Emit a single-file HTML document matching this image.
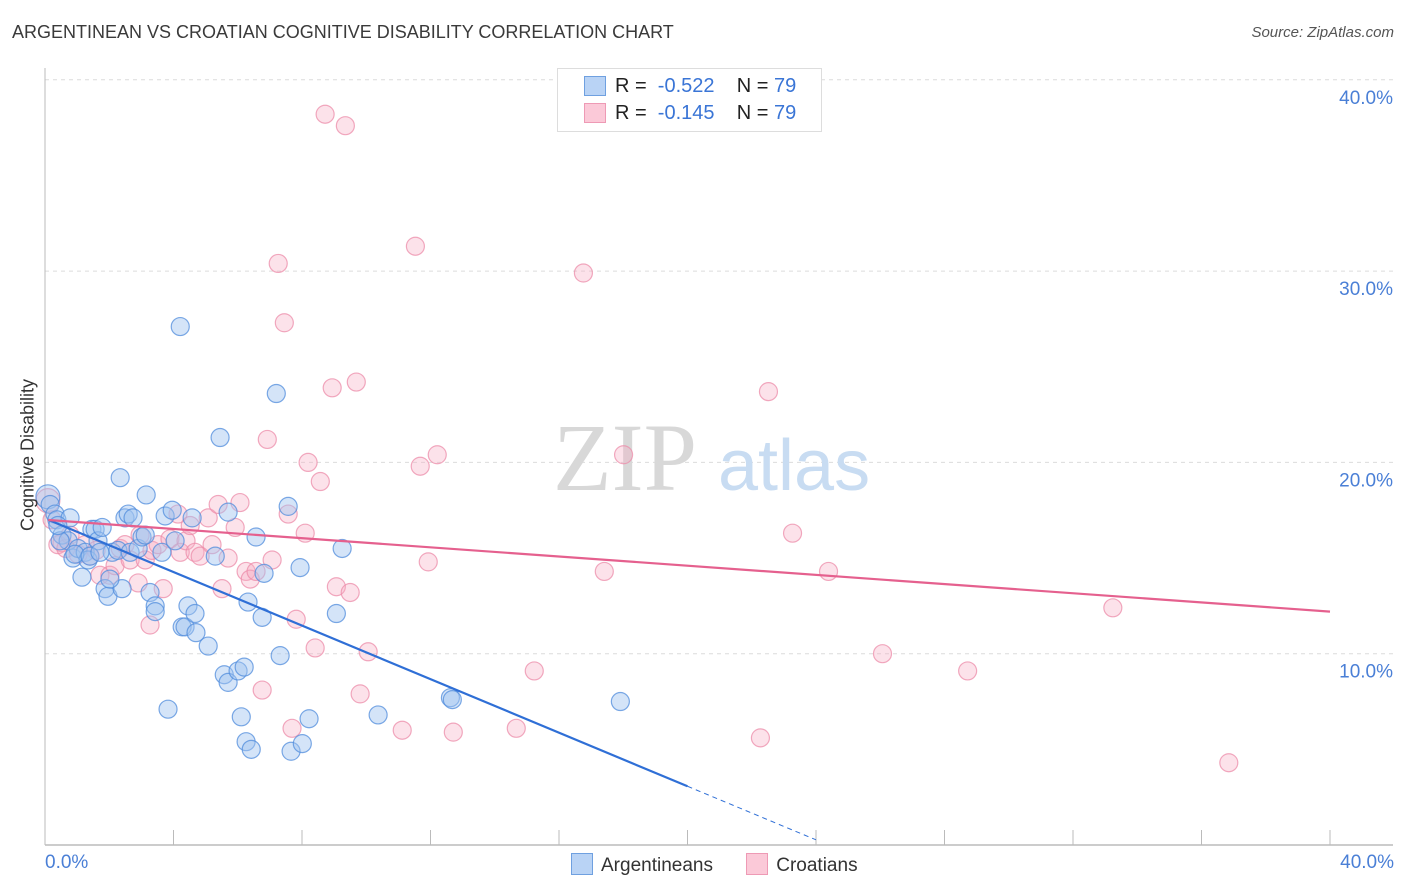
<!DOCTYPE html>
<html><head><meta charset="utf-8"><style>
body{margin:0;background:#fff;font-family:"Liberation Sans",sans-serif;}
#wrap{position:relative;width:1406px;height:892px;overflow:hidden;}
.t{position:absolute;white-space:nowrap;}
</style></head><body>
<div id="wrap">
<div class="t" style="left:12px;top:22px;font-size:18px;color:#3a3a3a;">ARGENTINEAN VS CROATIAN COGNITIVE DISABILITY CORRELATION CHART</div>
<div class="t" style="right:12px;top:24px;font-size:15px;color:#555;font-style:italic;">Source: ZipAtlas.com</div>
<svg id="svg" width="1406" height="892" style="position:absolute;left:0;top:0"></svg>
</div>
<script>
const blueX=[0.09,0.16,0.31,0.37,0.53,0.78,0.72,0.87,1.03,1.15,1.25,1.34,1.46,1.56,1.65,1.78,1.87,1.96,2.09,2.27,2.34,2.40,2.49,2.59,2.65,2.74,2.90,3.02,3.12,3.15,3.27,3.43,3.43,3.64,3.74,3.83,3.96,4.05,4.21,4.27,4.36,4.45,4.58,4.67,4.70,5.08,5.30,5.45,5.58,5.70,5.70,6.01,6.11,6.20,6.26,6.32,6.42,6.57,6.76,6.82,7.20,7.32,7.57,7.66,7.94,8.01,8.22,9.07,9.25,10.37,12.62,12.68,17.91,0.47,0.93,1.40,1.71,0.40,2.02];
const blueY=[18.2,17.8,17.3,17.0,16.2,17.1,15.9,15.0,15.5,14.0,15.3,14.9,16.5,16.5,15.9,16.6,13.4,13.0,15.3,15.4,19.2,13.4,17.1,17.3,15.3,17.1,15.5,16.1,16.2,18.3,13.2,12.5,12.2,15.3,17.2,7.1,17.5,15.9,27.1,11.4,11.4,12.5,17.1,12.1,11.1,10.4,15.1,21.3,8.9,8.5,17.4,9.1,6.7,9.3,5.4,12.7,5.0,16.1,11.9,14.2,23.6,9.9,17.7,4.9,14.5,5.3,6.6,12.1,15.5,6.8,7.7,7.6,7.5,15.9,15.2,15.1,15.3,16.7,13.9];
const pinkX=[0.09,0.22,0.40,0.53,0.65,0.78,1.03,1.25,1.40,1.59,1.71,2.02,2.18,2.34,2.49,2.65,2.90,2.96,3.12,3.27,3.33,3.52,3.68,3.89,4.14,4.21,4.39,4.52,4.67,4.83,5.08,5.20,5.39,5.51,5.70,5.92,6.07,6.26,6.39,6.57,6.76,6.92,7.07,7.26,7.45,7.57,7.69,7.82,8.10,8.19,8.41,8.57,8.72,8.94,9.07,9.35,9.50,9.69,9.81,10.06,11.12,11.53,11.68,11.93,12.21,12.71,14.67,15.23,16.76,17.41,18.01,22.27,22.52,23.27,24.39,26.07,28.72,33.24,36.85];
const pinkY=[18.0,17.0,15.7,15.8,15.5,16.2,15.2,15.7,15.1,15.4,14.1,14.1,14.6,15.5,15.7,14.9,13.7,16.2,14.9,11.5,15.4,15.7,13.4,16.0,17.3,15.3,15.9,16.7,15.3,15.1,17.1,15.7,17.8,13.4,15.0,16.6,17.9,14.3,13.9,14.3,8.1,21.2,14.9,30.4,27.3,17.3,6.1,11.8,16.3,20.0,10.3,19.0,38.2,23.9,13.5,37.6,13.2,24.2,7.9,10.1,6.0,31.3,19.8,14.8,20.4,5.9,6.1,9.1,29.9,14.3,20.4,5.6,23.7,16.3,14.3,10.0,9.1,12.4,4.3];
const blueTrend=[17.07,-0.70]; // intercept, slope
const pinkTrend=[17.0,-0.12];
const yTicks=[10,20,30,40];
const xTicks=[0,4,8,12,16,20,24,28,32,36,40];

const NS="http://www.w3.org/2000/svg";
const svg=document.getElementById('svg');
const X=v=>45+v*32.125, Y=v=>845-v*19.13;
function mk(tag,attrs){const e=document.createElementNS(NS,tag);for(const k in attrs)e.setAttribute(k,attrs[k]);svg.appendChild(e);return e;}

for(const t of yTicks){
  const g=mk('line',{x1:45,x2:1393,y1:Y(t),y2:Y(t),stroke:'#dcdcdc','stroke-dasharray':'4,4'});
  
  
  const l=mk('text',{x:1393,y:Y(t)+24,'text-anchor':'end','font-size':19,fill:'#4a7fd6','font-family':'Liberation Sans, sans-serif'});
  l.textContent=t.toFixed(1)+'%';
  
  
}
let a=mk('line',{x1:45,x2:45,y1:68,y2:845,stroke:'#bbb'});


a=mk('line',{x1:45,x2:1393,y1:845,y2:845,stroke:'#bbb','stroke-width':1.5});


for(const t of xTicks){
  const tk=mk('line',{x1:X(t),x2:X(t),y1:830,y2:845,stroke:'#bbb'});
  
  
}
// watermark
let w=mk('text',{x:553,y:490,'font-size':96,fill:'#d8d8d8','font-family':'Liberation Serif, serif'});w.textContent='ZIP';


w=mk('text',{x:718,y:490,'font-size':72,fill:'#c8dcf2','font-family':'Liberation Sans, sans-serif'});w.textContent='atlas';



function pts(xs,ys,fill,stroke,name){
  for(let i=0;i<xs.length;i++){
    const c=mk('circle',{cx:X(xs[i]),cy:Y(ys[i]),r:i===0?12:9,fill:fill,stroke:stroke,'stroke-width':1.2});
    
    
  }
}
pts(pinkX,pinkY,'rgba(246,172,196,0.35)','rgba(236,140,170,0.75)','croatian-point');
pts(blueX,blueY,'rgba(160,195,240,0.45)','rgba(80,140,220,0.75)','argentinean-point');

let tl=mk('line',{x1:X(0.1),y1:Y(blueTrend[0]+blueTrend[1]*0.1),x2:X(20),y2:Y(blueTrend[0]+blueTrend[1]*20),stroke:'#2f6fd6','stroke-width':2.2});


tl=mk('line',{x1:X(20),y1:Y(blueTrend[0]+blueTrend[1]*20),x2:X(24),y2:Y(blueTrend[0]+blueTrend[1]*24),stroke:'#2f6fd6','stroke-width':1,'stroke-dasharray':'5,4'});


tl=mk('line',{x1:X(0.1),y1:Y(pinkTrend[0]+pinkTrend[1]*0.1),x2:X(40),y2:Y(pinkTrend[0]+pinkTrend[1]*40),stroke:'#e5608e','stroke-width':2.2});


</script>
<div class="t" style="left:28px;top:455px;font-size:18px;color:#333;transform:translate(-50%,-50%) rotate(-90deg);">Cognitive Disability</div>
<div class="t" style="left:45px;top:852px;font-size:19px;color:#4a7fd6;">0.0%</div>
<div class="t" style="right:12px;top:852px;font-size:19px;color:#4a7fd6;">40.0%</div>
<div style="position:absolute;left:557px;top:68px;width:263px;height:62px;border:1px solid #ddd;background:#fff;font-size:20px;">
 <div style="position:absolute;left:26px;top:7px;width:20px;height:18px;background:#b9d3f5;border:1px solid #6fa0e0;"></div>
 <div class="t" style="left:57px;top:6px;color:#222;">R = &nbsp;<span style="color:#3a75d6">-0.522</span>&nbsp;&nbsp;&nbsp; N = <span style="color:#3a75d6">79</span></div>
 <div style="position:absolute;left:26px;top:34px;width:20px;height:18px;background:#fbc9d8;border:1px solid #ee9ab5;"></div>
 <div class="t" style="left:57px;top:33px;color:#222;">R = &nbsp;<span style="color:#3a75d6">-0.145</span>&nbsp;&nbsp;&nbsp; N = <span style="color:#3a75d6">79</span></div>
</div>
<div style="position:absolute;left:571px;top:853px;font-size:19px;color:#333;">
 <span style="display:inline-block;"><span style="display:inline-block;width:20px;height:20px;background:#b9d3f5;border:1px solid #6fa0e0;vertical-align:-4px;margin-right:8px;"></span>Argentineans</span>
 <span style="display:inline-block;margin-left:28px;"><span style="display:inline-block;width:20px;height:20px;background:#fbc9d8;border:1px solid #ee9ab5;vertical-align:-4px;margin-right:8px;"></span>Croatians</span>
</div>
</body></html>
